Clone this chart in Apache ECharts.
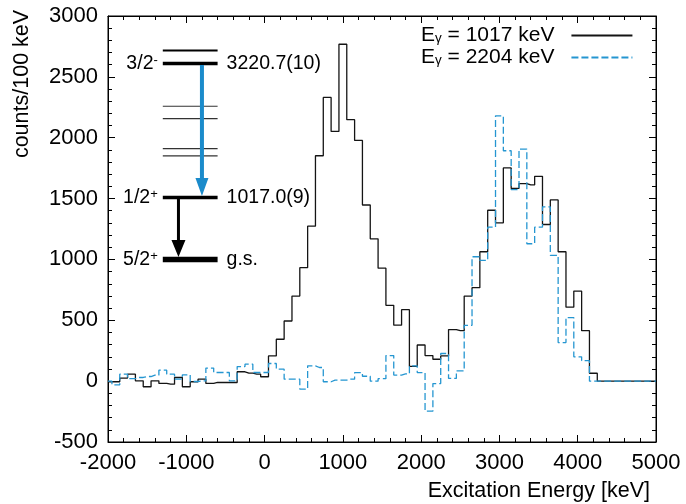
<!DOCTYPE html>
<html>
<head>
<meta charset="utf-8">
<script src="https://cdn.jsdelivr.net/npm/echarts@6/dist/echarts.min.js"></script>
<style>
  html, body { margin: 0; padding: 0; background: #fff; }
  #chart { width: 686px; height: 504px; }
</style>
</head>
<body>
<div id="chart"></div>
<script>
// Excitation-energy spectra gated on two gamma lines, 100 keV bins (bin centres in keV)
const binCentres = [
  -2000, -1900, -1800, -1700, -1600, -1500, -1400, -1300, -1200, -1100,
  -1000, -900, -800, -700, -600, -500, -400, -300, -200, -100,
  0, 100, 200, 300, 400, 500, 600, 700, 800, 900,
  1000, 1100, 1200, 1300, 1400, 1500, 1600, 1700, 1800, 1900,
  2000, 2100, 2200, 2300, 2400, 2500, 2600, 2700, 2800, 2900,
  3000, 3100, 3200, 3300, 3400, 3500, 3600, 3700, 3800, 3900,
  4000, 4100, 4200, 4300, 4400, 4500, 4600, 4700, 4800, 4900,
  5000
];

// counts / 100 keV, gate E_gamma = 1017 keV
const counts1017 = [
  -5, -5, 25, 57, 3, -46, 3, -19, -25, 30,
  -46, -5, 16, -19, -11, -11, -11, 77, 66, 57,
  36, 207, 344, 494, 699, 932, 1273, 1852, 2331, 2052,
  2768, 2148, 1978, 1447, 1169, 928, 623, 460, 587, 122,
  297, 210, 180, 207, 424, 415, 699, 768, 1063, 1404,
  1301, 1752, 1583, 1623, 1612, 1683, 1287, 1489, 1063, 608,
  740, 415, 65, 0, 0, 0, 0, 0, 0, 0,
  0
];

// counts / 100 keV, gate E_gamma = 2204 keV
const counts2204 = [
  0, -30, 57, 20, 30, 38, 49, 90, 57, 16,
  52, -3, 3, 107, 71, 71, 3, 120, 139, 71,
  71, 145, 98, 16, 16, -66, 126, 112, -5, 8,
  8, 16, 70, 40, 0, 20, 210, 50, 60, 125,
  70, -247, -20, 227, 22, 85, 459, 1022, 992, 1265,
  2180, 1893, 1574, 1907, 1129, 1265, 1432, 1034, 317, 522,
  200, 168, 0, 0, 0, 0, 0, 0, 0, 0,
  0
];

const seriesNames = ['Eγ = 1017 keV', 'Eγ = 2204 keV'];

const xTicks = [-2000, -1000, 0, 1000, 2000, 3000, 4000, 5000];
const yTicks = [-500, 0, 500, 1000, 1500, 2000, 2500, 3000];

// Level scheme (keV) shown as an inset
const levelEnergies = [0, 1017.0, 1702, 1822, 2315, 2517, 3220.7, 3432];
const levelSpins    = ['5/2+', '1/2+', '', '', '', '', '3/2-', ''];
const levelTags     = ['g.s.', '1017.0(9)', '', '', '', '', '3220.7(10)', ''];
const gammaFrom     = [3220.7, 1017.0];
const gammaTo       = [1017.0, 0];

const FONT = '"Liberation Sans", Arial, Helvetica, sans-serif';
const BLACK = '#141414';
const BLUE = '#2596d1';
const ARROW_BLUE = '#1b8bcb';

const chart = echarts.init(document.getElementById('chart'), null, { renderer: 'canvas' });

function makeAxis(common, extra) {
  return Object.assign({}, common, extra);
}
const plainNumber = v => String(v);

const xCommon = {
  type: 'value',
  min: xTicks[0],
  max: xTicks[xTicks.length - 1],
  interval: 1000,
  splitLine: { show: false },
  axisLine: { show: true, onZero: false, lineStyle: { color: '#000', width: 1 } },
  axisTick: { show: true, inside: true, length: 7, lineStyle: { color: '#000', width: 1 } },
  minorTick: { show: true, splitNumber: 5, length: 4, lineStyle: { color: '#000', width: 1 } },
  minorSplitLine: { show: false }
};
const yCommon = {
  type: 'value',
  min: yTicks[0],
  max: yTicks[yTicks.length - 1],
  interval: 500,
  splitLine: { show: false },
  axisLine: { show: true, onZero: false, lineStyle: { color: '#000', width: 1 } },
  axisTick: { show: true, inside: true, length: 7, lineStyle: { color: '#000', width: 1 } },
  minorTick: { show: true, splitNumber: 5, length: 4, lineStyle: { color: '#000', width: 1 } },
  minorSplitLine: { show: false }
};

const legendRich = {
  e: { fontSize: 21, fontFamily: FONT, color: '#000', lineHeight: 20 },
  s: { fontSize: 13.5, fontFamily: FONT, color: '#000', lineHeight: 6, verticalAlign: 'bottom' },
  r: { fontSize: 21, fontFamily: FONT, color: '#000', lineHeight: 20 },
  g: { width: 12, lineHeight: 20 }
};

chart.setOption({
  animation: false,
  backgroundColor: '#fff',
  grid: {
    left: 108, right: 30, top: 16, bottom: 62,
    show: true, borderColor: '#000', borderWidth: 1,
    outerBoundsMode: 'none'
  },
  xAxis: [
    makeAxis(xCommon, {
      position: 'bottom',
      axisLabel: { show: true, color: '#000', fontSize: 22, fontFamily: FONT, margin: 10, formatter: plainNumber }
    }),
    makeAxis(xCommon, { position: 'top', axisLabel: { show: false } })
  ],
  yAxis: [
    makeAxis(yCommon, {
      position: 'left',
      axisLabel: { show: true, color: '#000', fontSize: 22, fontFamily: FONT, margin: 10, formatter: plainNumber }
    }),
    makeAxis(yCommon, { position: 'right', axisLabel: { show: false } })
  ],
  legend: {
    show: true,
    data: seriesNames,
    orient: 'vertical',
    left: 421,
    top: 25,
    align: 'right',
    padding: 0,
    itemWidth: 61,
    itemHeight: 14,
    itemGap: 1,
    selectedMode: false,
    itemStyle: { opacity: 0 },
    textStyle: { fontSize: 21, fontFamily: FONT, color: '#000', rich: legendRich },
    formatter: function (name) {
      return '{e|E}{s|γ}{r|' + name.slice(2) + '}{g| }';
    }
  },
  series: [
    {
      name: seriesNames[0],
      type: 'line',
      step: 'middle',
      symbol: 'none',
      data: binCentres.map((e, i) => [e, counts1017[i]]),
      lineStyle: { color: BLACK, width: 1.3 },
      itemStyle: { color: BLACK },
      xAxisIndex: 0, yAxisIndex: 0,
      z: 2
    },
    {
      name: seriesNames[1],
      type: 'line',
      step: 'middle',
      symbol: 'none',
      data: binCentres.map((e, i) => [e, counts2204[i]]),
      lineStyle: { color: BLUE, width: 1.3, type: [7, 3] },
      itemStyle: { color: BLUE },
      xAxisIndex: 0, yAxisIndex: 0,
      z: 3
    }
  ]
});

// ---- inset level scheme, laid out in the plot's own coordinates ----
const schemeLeft = -1300, schemeRight = -600;   // keV on the x axis
const schemeBase = 1000, schemeScale = 0.5;     // counts at g.s., counts per keV of level energy
function levelY(E) {
  return chart.convertToPixel({ gridIndex: 0 }, [0, schemeBase + E * schemeScale])[1];
}
function px(xv) {
  return chart.convertToPixel({ gridIndex: 0 }, [xv, 0])[0];
}

const xL = px(schemeLeft), xR = px(schemeRight);
const graphics = [];

levelEnergies.forEach((E, i) => {
  const y = levelY(E);
  let w = 1.2, c = '#333';
  if (E === 0) { w = 5.5; c = '#000'; }
  else if (levelTags[i]) { w = 3.4; c = '#000'; }
  else if (i === levelEnergies.length - 1) { w = 2.1; c = '#000'; }
  graphics.push({
    type: 'line', silent: true,
    shape: { x1: xL, y1: y, x2: xR, y2: y },
    style: { stroke: c, lineWidth: w }
  });
  if (levelSpins[i]) {
    const base = levelSpins[i].slice(0, -1);
    const par = levelSpins[i].slice(-1);
    graphics.push({
      type: 'text', silent: true,
      x: xL - 5, y: y,
      style: {
        text: '{n|' + base + '}{p|' + par + '}',
        textAlign: 'right', textVerticalAlign: 'middle',
        rich: {
          n: { fontSize: 19.5, fontFamily: FONT, fill: '#000', lineHeight: 20 },
          p: { fontSize: 13, fontFamily: FONT, fill: '#000', lineHeight: 2, verticalAlign: 'top' }
        }
      }
    });
  }
  if (levelTags[i]) {
    graphics.push({
      type: 'text', silent: true,
      x: xR + 9, y: y,
      style: {
        text: levelTags[i], fontSize: 19.5, fontFamily: FONT, fill: '#000',
        textAlign: 'left', textVerticalAlign: 'middle'
      }
    });
  }
});

// gamma transitions drawn as arrows
const arrowX = [-800, -1100];
const arrowColor = [ARROW_BLUE, '#000'];
const arrowShaft = [4, 3];
const arrowHalfHead = [6.5, 7];
const arrowHead = [18, 17];
gammaFrom.forEach((Ei, k) => {
  const x = px(arrowX[k]);
  const yStart = levelY(Ei) + 1.5;
  const yTip = levelY(gammaTo[k]) - (gammaTo[k] === 0 ? 2.5 : 1.5);
  const hw = arrowShaft[k] / 2, hh = arrowHalfHead[k], hl = arrowHead[k];
  graphics.push({
    type: 'polygon', silent: true,
    shape: {
      points: [
        [x - hw, yStart], [x + hw, yStart], [x + hw, yTip - hl],
        [x + hh, yTip - hl], [x, yTip], [x - hh, yTip - hl], [x - hw, yTip - hl]
      ]
    },
    style: { fill: arrowColor[k] }
  });
});

// axis titles
graphics.push({
  type: 'text', silent: true,
  x: 650, y: 491,
  style: {
    text: 'Excitation Energy [keV]', fontSize: 21.5, fontFamily: FONT, fill: '#000',
    textAlign: 'right', textVerticalAlign: 'middle'
  }
});
graphics.push({
  type: 'text', silent: true,
  x: 22, y: 84, rotation: Math.PI / 2,
  style: {
    text: 'counts/100 keV', fontSize: 21.5, fontFamily: FONT, fill: '#000',
    textAlign: 'center', textVerticalAlign: 'middle'
  }
});

chart.setOption({ graphic: graphics });
</script>
</body>
</html>
